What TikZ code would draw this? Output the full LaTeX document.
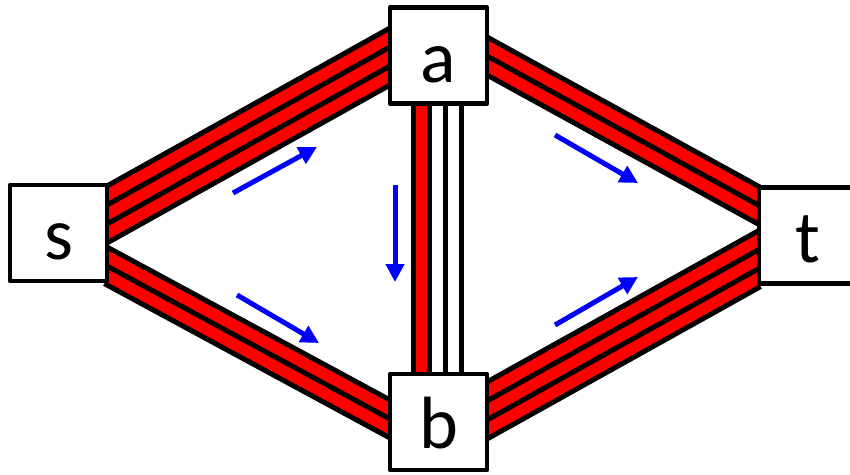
\documentclass[tikz,border=0pt]{standalone}
\usepackage{fontspec}
\newfontfamily\boxfont{Carlito}
\usetikzlibrary{arrows.meta}
\begin{document}
\begin{tikzpicture}[x=1pt,y=-1pt,
  nodebox/.style={draw=black, line width=4.5pt, line join=round, fill=white, minimum width=97pt,
    minimum height=96pt, inner sep=0pt, text height=60pt, text depth=7pt,
    font=\boxfont\fontsize{74}{80}\selectfont},
  pipeline/.style={line width=5pt, black, shorten <=-3pt, shorten >=-3pt},
  flow/.style={blue, line width=5pt, -{Triangle[length=18pt,width=18pt]}}]
\useasboundingbox (0,0) rectangle (850,474);
\clip (0,0) rectangle (850,474);

% pipe end coordinates (top line of each bundle)
\coordinate (sa0) at (107,186); \coordinate (sa1) at (390,28);
\coordinate (sb0) at (107,247); \coordinate (sb1) at (390,400);
\coordinate (at0) at (487,37);  \coordinate (at1) at (758,186);
\coordinate (bt0) at (487,382); \coordinate (bt1) at (758,231);
\coordinate (ab0) at (413,104); \coordinate (ab1) at (413,374);

% s - a : 3 full stripes
\fill[red] (sa0) -- (sa1) -- ([yshift=-57pt]sa1) -- ([yshift=-57pt]sa0) -- cycle;
\foreach \k in {0,1,2,3}
  \draw[pipeline] ([yshift={-19pt*\k}]sa0) -- ([yshift={-19pt*\k}]sa1);
% s - b : 2 full stripes
\fill[red] (sb0) -- (sb1) -- ([yshift=-38pt]sb1) -- ([yshift=-38pt]sb0) -- cycle;
\foreach \k in {0,1,2}
  \draw[pipeline] ([yshift={-19pt*\k}]sb0) -- ([yshift={-19pt*\k}]sb1);
% a - t : 2 full stripes
\fill[red] (at0) -- (at1) -- ([yshift=-38pt]at1) -- ([yshift=-38pt]at0) -- cycle;
\foreach \k in {0,1,2}
  \draw[pipeline] ([yshift={-19pt*\k}]at0) -- ([yshift={-19pt*\k}]at1);
% b - t : 3 full stripes
\fill[red] (bt0) -- (bt1) -- ([yshift=-57pt]bt1) -- ([yshift=-57pt]bt0) -- cycle;
\foreach \k in {0,1,2,3}
  \draw[pipeline] ([yshift={-19pt*\k}]bt0) -- ([yshift={-19pt*\k}]bt1);
% a - b : 1 of 3 stripes filled
\fill[red] (ab0) rectangle ([xshift=16pt]ab1);
\foreach \k in {0,1,2,3}
  \draw[pipeline] ([xshift={16pt*\k}]ab0) -- ([xshift={16pt*\k}]ab1);

% boxes
\node[nodebox] (s) at (58.5,233) {s};
\node[nodebox] (a) at (438.5,55.5) {a};
\node[nodebox] (b) at (438.5,422) {b};
\node[nodebox] (t) at (807.5,235.5) {t};

% flow arrows
\coordinate (f1s) at (233,193); \coordinate (f1e) at (317,147);
\coordinate (f2s) at (237,295); \coordinate (f2e) at (319,343);
\coordinate (f3s) at (395,185); \coordinate (f3e) at (395,282);
\coordinate (f4s) at (555,135); \coordinate (f4e) at (638,183);
\coordinate (f5s) at (555,325); \coordinate (f5e) at (638,277);
\draw[flow] (f1s) -- (f1e);
\draw[flow] (f2s) -- (f2e);
\draw[flow] (f3s) -- (f3e);
\draw[flow] (f4s) -- (f4e);
\draw[flow] (f5s) -- (f5e);
\end{tikzpicture}
\end{document}
